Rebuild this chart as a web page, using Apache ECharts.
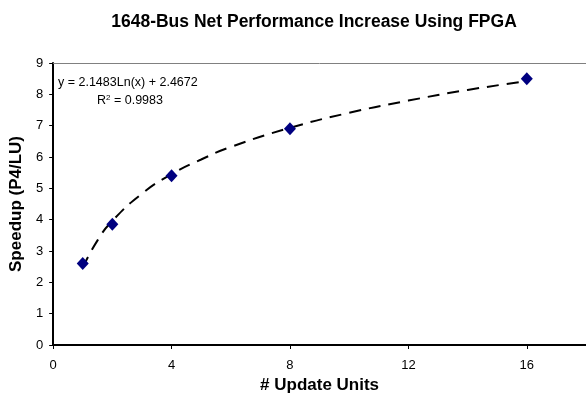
<!DOCTYPE html>
<html>
<head>
<meta charset="utf-8">
<script src="https://cdn.jsdelivr.net/npm/echarts@6/dist/echarts.min.js"></script>
<style>html,body{margin:0;padding:0;background:#fff}#c{width:586px;height:399px}</style>
</head>
<body>
<div id="c"></div>
<script>
var updateUnits = [1, 2, 4, 8, 16];
var speedup = [2.6, 3.85, 5.4, 6.9, 8.5];
var trendX = [1, 1.5, 2, 3, 4, 5, 6, 8, 10, 12, 14, 16];
var trendY = [2.47, 3.34, 3.96, 4.83, 5.45, 5.92, 6.32, 6.93, 7.41, 7.80, 8.14, 8.42];
var xTicks = [0, 4, 8, 12, 16];
var yTicks = [0, 1, 2, 3, 4, 5, 6, 7, 8, 9];
var titleText = '1648-Bus Net Performance Increase Using FPGA';
var eqText = 'y = 2.1483Ln(x) + 2.4672';
var r2Base = 'R';
var r2Sup = '2';
var r2Rest = ' = 0.9983';

var font = 'Liberation Sans, Arial, sans-serif';
var chart = echarts.init(document.getElementById('c'), null, {renderer: 'canvas'});
var pts = updateUnits.map(function (x, i) { return [x, speedup[i]]; });
var trend = trendX.map(function (x, i) { return [x, trendY[i]]; });

chart.setOption({
  animation: false,
  backgroundColor: '#ffffff',
  title: {
    text: titleText,
    left: 309, top: 8, textAlign: 'center',
    textStyle: {fontFamily: font, fontWeight: 'bold', fontSize: 17.5, color: '#000'}
  },
  grid: {left: 52, top: 63, right: -6, bottom: 48, show: false},
  xAxis: [{
    type: 'value', min: 0, max: 18, interval: 4,
    name: '# Update Units', nameLocation: 'middle', nameGap: 32,
    nameTextStyle: {fontFamily: font, fontWeight: 'bold', fontSize: 17, color: '#000'},
    axisLine: {lineStyle: {color: '#000', width: 2}},
    axisTick: {show: true, length: 4, lineStyle: {color: '#000', width: 1}},
    axisLabel: {
      margin: 14, fontFamily: font, fontSize: 13, color: '#000', showMaxLabel: false,
      formatter: function (v) { return xTicks.indexOf(v) >= 0 ? String(v) : ''; }
    },
    splitLine: {show: false}
  }, {
    type: 'value', position: 'top', min: 0, max: 18, interval: 4,
    axisLine: {show: true, lineStyle: {color: '#808080', width: 1}},
    axisTick: {show: false}, axisLabel: {show: false}, splitLine: {show: false}
  }],
  yAxis: {
    type: 'value', min: 0, max: 9, interval: 1,
    name: 'Speedup (P4/LU)', nameLocation: 'middle', nameGap: 26, nameRotate: 90,
    nameTextStyle: {fontFamily: font, fontWeight: 'bold', fontSize: 17, color: '#000'},
    axisLine: {show: true, lineStyle: {color: '#000', width: 2}},
    axisTick: {show: true, length: 4, lineStyle: {color: '#000', width: 1}},
    axisLabel: {
      margin: 10, fontFamily: font, fontSize: 13, color: '#000',
      formatter: function (v) { return yTicks.indexOf(v) >= 0 ? String(v) : ''; }
    },
    splitLine: {show: false}
  },
  series: [
    {
      type: 'line', data: trend, smooth: true, showSymbol: false, symbol: 'none',
      lineStyle: {color: '#000', width: 2, type: [12, 8]}, z: 2, silent: true
    },
    {
      type: 'scatter', data: pts, symbol: 'diamond', symbolSize: [12, 13],
      itemStyle: {color: '#000080', opacity: 1}, z: 3
    }
  ],
  graphic: [
    {type: 'text', left: 58, top: 76, style: {text: eqText, fontFamily: font, fontSize: 12.5, fill: '#000'}},
    {type: 'text', left: 97, top: 94, style: {
      text: r2Base + '{s|' + r2Sup + '}' + r2Rest,
      fontFamily: font, fontSize: 12.5, fill: '#000',
      rich: {s: {fontFamily: font, fontSize: 8, verticalAlign: 'top', padding: [0, 0, 6, 0], fill: '#000'}}
    }}
  ]
});
</script>
</body>
</html>
